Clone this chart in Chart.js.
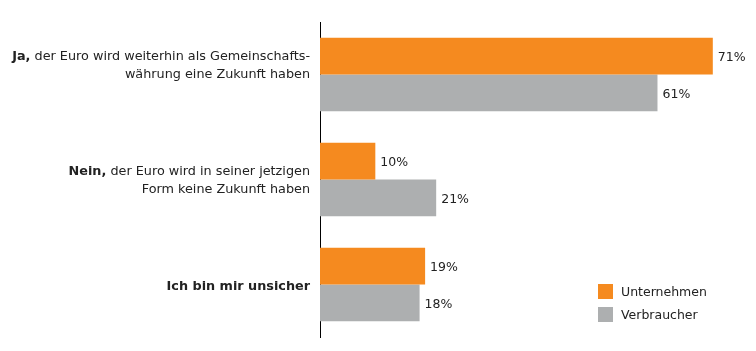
<!DOCTYPE html>
<html>
<head>
<meta charset="utf-8">
<script src="https://cdn.jsdelivr.net/npm/chart.js@4/dist/chart.umd.min.js"></script>
<style>
  html, body { margin: 0; padding: 0; background: #fff; }
  #wrap { position: relative; width: 756px; height: 351px; }
  .legend { position: absolute; left: 598px; top: 284px; font: 12.5px "DejaVu Sans", sans-serif; color: #222; }
  .legend div { height: 23px; line-height: 15px; }
  .legend span { display: inline-block; width: 15px; height: 15px; vertical-align: top; margin-right: 8px; }
</style>
</head>
<body>
<div id="wrap">
  <canvas id="chart" width="756" height="351"></canvas>
  <div class="legend" id="legend"></div>
</div>
<script>
/* ── Data ── */
var categoryBold = ['Ja,', 'Nein,', 'Ich bin mir unsicher'];
var categoryLine1 = [' der Euro wird weiterhin als Gemeinschafts-', ' der Euro wird in seiner jetzigen', ''];
var categoryLine2 = ['währung eine Zukunft haben', 'Form keine Zukunft haben', ''];
var seriesNames = ['Unternehmen', 'Verbraucher'];
var unternehmen = [71, 10, 19];
var verbraucher = [61, 21, 18];
var seriesColors = ['#f58a1f', '#adafb0'];

var FONT = '"DejaVu Sans", sans-serif';

/* ── Legend (HTML) ── */
var legendEl = document.getElementById('legend');
seriesNames.forEach(function(name, i) {
  legendEl.innerHTML += '<div><span style="background:' + seriesColors[i] + '"></span>' + name + '</div>';
});

/* ── Category labels with bold lead-in ── */
var categoryLabels = {
  id: 'categoryLabels',
  afterDraw: function(chart) {
    var ctx = chart.ctx;
    var y = chart.scales.y;
    var right = chart.chartArea.left - 10;
    ctx.save();
    ctx.fillStyle = '#222';
    ctx.textBaseline = 'middle';
    categoryBold.forEach(function(bold, i) {
      var cy = y.getPixelForValue(i);
      var twoLines = categoryLine2[i] !== '';
      var l1y = twoLines ? cy - 8 - (i === 0 ? 10 : 0) : cy + 2;
      ctx.font = '12.8px ' + FONT;
      var restW = ctx.measureText(categoryLine1[i]).width;
      ctx.textAlign = 'right';
      ctx.fillText(categoryLine1[i], right, l1y);
      ctx.font = 'bold 12.8px ' + FONT;
      ctx.fillText(bold, right - restW, l1y);
      if (twoLines) {
        ctx.font = '12.8px ' + FONT;
        ctx.fillText(categoryLine2[i], right, l1y + 18);
      }
    });
    ctx.restore();
  }
};

/* ── Value labels at bar ends ── */
var valueLabels = {
  id: 'valueLabels',
  afterDatasetsDraw: function(chart) {
    var ctx = chart.ctx;
    ctx.save();
    ctx.font = '12.5px ' + FONT;
    ctx.fillStyle = '#222';
    ctx.textAlign = 'left';
    ctx.textBaseline = 'middle';
    chart.data.datasets.forEach(function(ds, di) {
      chart.getDatasetMeta(di).data.forEach(function(bar, i) {
        ctx.fillText(ds.data[i] + '%', bar.x + 5, bar.y + 2);
      });
    });
    ctx.restore();
  }
};

new Chart(document.getElementById('chart'), {
  type: 'bar',
  data: {
    labels: categoryBold,
    datasets: [
      { label: seriesNames[0], data: unternehmen, backgroundColor: seriesColors[0] },
      { label: seriesNames[1], data: verbraucher, backgroundColor: seriesColors[1] }
    ]
  },
  options: {
    indexAxis: 'y',
    responsive: false,
    animation: false,
    layout: { padding: { left: 320, right: 10, top: 22, bottom: 14 } },
    datasets: { bar: { barPercentage: 1, categoryPercentage: 0.7 } },
    plugins: { legend: { display: false }, tooltip: { enabled: false } },
    scales: {
      x: { display: false, min: 0, max: 77 },
      y: {
        grid: { drawOnChartArea: false, drawTicks: false },
        border: { display: true, color: '#000', width: 1 },
        ticks: { display: false }
      }
    }
  },
  plugins: [categoryLabels, valueLabels]
});
</script>
</body>
</html>
